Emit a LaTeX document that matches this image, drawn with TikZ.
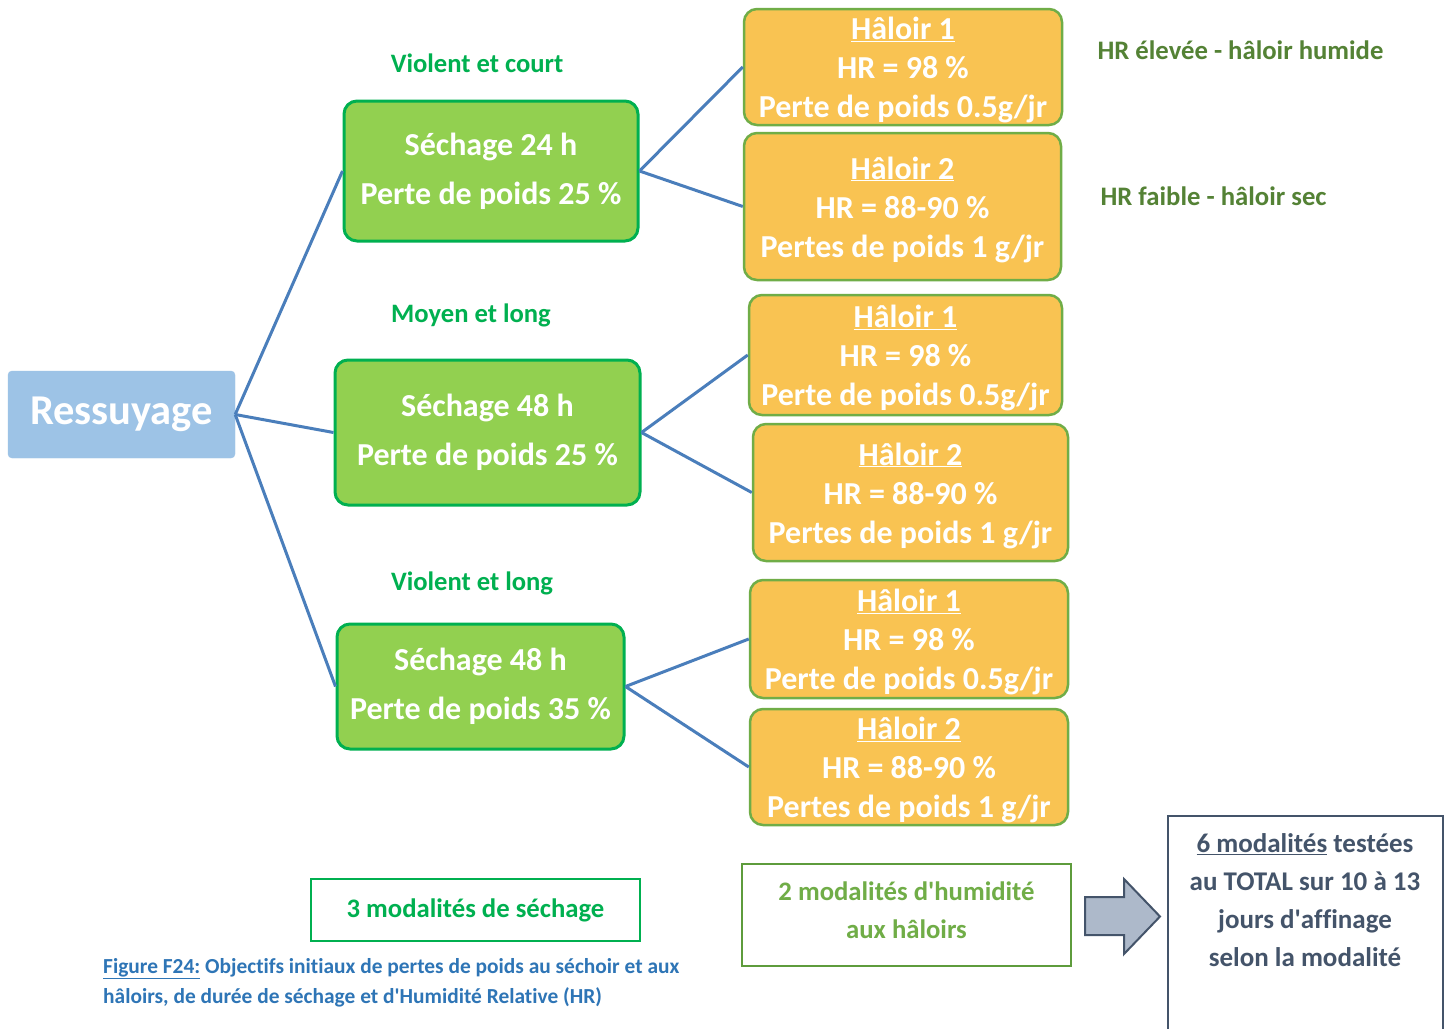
\documentclass[tikz,border=0pt]{standalone}
\usepackage{fontspec}
\setmainfont{Carlito}[Ligatures={TeX,NoCommon}]
\definecolor{ressfill}{HTML}{9DC3E6}
\definecolor{gfill}{HTML}{92D050}
\definecolor{gborder}{HTML}{00B050}
\definecolor{ofill}{HTML}{F9C352}
\definecolor{oborder}{HTML}{70AD47}
\definecolor{linkcol}{HTML}{4A7EBB}
\definecolor{lblgreen}{HTML}{00B050}
\definecolor{hrgreen}{HTML}{548235}
\definecolor{capblue}{HTML}{2E75B6}
\definecolor{humborder}{HTML}{5E9C3C}
\definecolor{humtext}{HTML}{70AD47}
\definecolor{slate}{HTML}{44546A}
\definecolor{arrowfill}{HTML}{ADB9CA}
\newcommand{\apos}{\textquotesingle}
\tikzset{
  ressbox/.style={fill=ressfill, draw=ressfill, rounded corners=4pt, text=white,
    font=\fontsize{42.5}{42.5}\selectfont\bfseries, inner sep=0pt},
  gbox/.style={fill=gfill, draw=gborder, line width=3pt, rounded corners=13pt, text=white,
    align=center, font=\fontsize{32}{49}\selectfont\bfseries, inner sep=0pt},
  obox/.style={fill=ofill, draw=oborder, line width=2.5pt, rounded corners=13pt, inner sep=0pt},
  otext/.style={text=white, align=center, font=\fontsize{32}{39}\selectfont\bfseries, inner sep=0pt},
  link/.style={draw=linkcol, line width=3pt},
  grouplbl/.style={text=lblgreen, font=\fontsize{26.6}{26.6}\selectfont\bfseries},
  hrlbl/.style={text=hrgreen, font=\fontsize{26.7}{26.7}\selectfont\bfseries, anchor=west},
  framebox/.style={draw, line width=2pt, align=center, inner sep=0pt},
}
\begin{document}
\begin{tikzpicture}[x=1pt,y=-1pt]
\useasboundingbox (0,0) rectangle (1450,1028);
\fill[white] (0,0) rectangle (1450,1028);

% root
\node[ressbox, minimum width=227pt, minimum height=87pt] (ress) at (121.5,414.5) {Ressuyage};

% drying boxes
\node[gbox, minimum width=294pt, minimum height=140pt] (g1) at (491,171) {Séchage 24 h\\Perte de poids 25 \%};
\node[gbox, minimum width=305pt, minimum height=145pt] (g2) at (487.5,432.5) {Séchage 48 h\\Perte de poids 25 \%};
\node[gbox, minimum width=287pt, minimum height=125pt] (g3) at (480.5,686.5) {Séchage 48 h\\Perte de poids 35 \%};

% haloir boxes
\node[obox, minimum width=318pt, minimum height=116pt] (o1) at (903,67) {};
\node[obox, minimum width=317pt, minimum height=147pt] (o2) at (902.5,206.5) {};
\node[obox, minimum width=313pt, minimum height=120pt] (o3) at (905.5,355) {};
\node[obox, minimum width=315pt, minimum height=137pt] (o4) at (910.5,492.5) {};
\node[obox, minimum width=318pt, minimum height=118pt] (o5) at (909,639) {};
\node[obox, minimum width=318pt, minimum height=116pt] (o6) at (909,767) {};
\node[otext] (t1) at ([yshift=-3pt]o1.center) {\underline{Hâloir 1}\\HR = 98 \%\\Perte de poids 0.5g/jr};
\node[otext] (t2) at ([yshift=-3pt]o2.center) {\underline{Hâloir 2}\\HR = 88-90 \%\\Pertes de poids 1 g/jr};
\node[otext] (t3) at ([yshift=-3pt]o3.center) {\underline{Hâloir 1}\\HR = 98 \%\\Perte de poids 0.5g/jr};
\node[otext] (t4) at ([yshift=-3pt]o4.center) {\underline{Hâloir 2}\\HR = 88-90 \%\\Pertes de poids 1 g/jr};
\node[otext] (t5) at ([yshift=-3pt]o5.center) {\underline{Hâloir 1}\\HR = 98 \%\\Perte de poids 0.5g/jr};
\node[otext] (t6) at ([yshift=-3pt]o6.center) {\underline{Hâloir 2}\\HR = 88-90 \%\\Pertes de poids 1 g/jr};

% connectors
\draw[link] (ress.east) -- (g1.west);
\draw[link] (ress.east) -- (g2.west);
\draw[link] (ress.east) -- (g3.west);
\draw[link] (g1.east) -- (o1.west);
\draw[link] (g1.east) -- (o2.west);
\draw[link] (g2.east) -- (o3.west);
\draw[link] (g2.east) -- (o4.west);
\draw[link] (g3.east) -- (o5.west);
\draw[link] (g3.east) -- (o6.west);

% group labels
\node[grouplbl] (l1) at (477,63) {Violent et court};
\node[grouplbl] (l2) at (471,315) {Moyen et long};
\node[grouplbl] (l3) at (472,583) {Violent et long};

\node[hrlbl] (hr1) at (1094,50) {HR élevée - hâloir humide};
\node[hrlbl] (hr2) at (1097,196) {HR faible - hâloir sec};

% bottom boxes
\node[framebox, draw=gborder, text=lblgreen, minimum width=329pt, minimum height=62pt,
  font=\fontsize{26.7}{26.7}\selectfont\bfseries] (sech) at (475.5,910) {3 modalités de séchage};

\node[framebox, draw=humborder, minimum width=329pt, minimum height=102pt] (hum) at (906.5,915) {};
\node[text=humtext, align=center, inner sep=0pt,
  font=\fontsize{26.7}{38}\selectfont\bfseries] (humtxt) at (906.5,910) {2 modalités d\apos humidité\\aux hâloirs};

\node[anchor=north west, align=left, text=capblue, inner sep=0pt,
  font=\fontsize{21.4}{30}\selectfont\bfseries] (cap) at (103,958)
  {{\color{capblue}\underline{Figure F24:}} Objectifs initiaux de pertes de poids au séchoir et aux\\hâloirs, de durée de séchage et d\apos Humidité Relative (HR)};

% block arrow
\filldraw[fill=arrowfill, draw=slate, line width=2pt, line join=miter]
  (1085,897) -- (1124,897) -- (1124,879) -- (1160,916.5) -- (1124,954) -- (1124,935) -- (1085,935) -- cycle;

% total box
\draw[slate, line width=2pt] (1168,1030) -- (1168,816) -- (1443,816) -- (1443,1030);
\node[text=slate, align=center, inner sep=0pt, font=\fontsize{27}{38}\selectfont\bfseries] (total) at (1305,900)
  {\underline{6 modalités} testées\\au TOTAL sur 10 à 13\\jours d\apos affinage\\selon la modalité};
\end{tikzpicture}
\end{document}
